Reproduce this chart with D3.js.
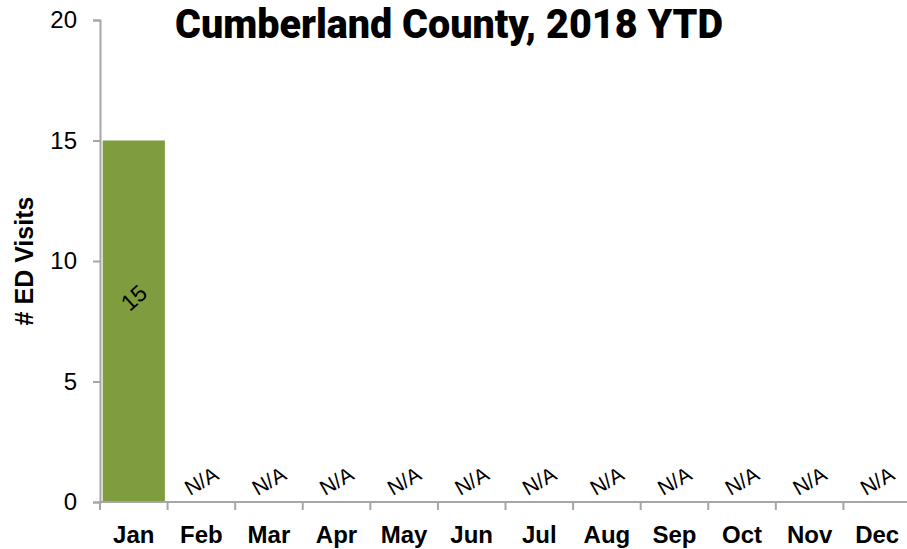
<!DOCTYPE html>
<meta charset="utf-8">
<style>
body { margin: 0; background: #fff; }
text { font-family: "Liberation Sans", Arial, sans-serif; }
.axis path, .axis line { stroke: #a6a6a6; stroke-width: 2; }
</style>
<svg width="907" height="549"></svg>
<script src="https://d3js.org/d3.v7.min.js"></script>
<script>

var months = ["Jan", "Feb", "Mar", "Apr", "May", "Jun", "Jul", "Aug", "Sep", "Oct", "Nov", "Dec"];
var visits = [15, null, null, null, null, null, null, null, null, null, null, null];
var yTicks = [0, 5, 10, 15, 20];
var title = "Cumberland County, 2018 YTD";

var svg = d3.select("svg"),
	margin = {top: 20, right: -4, bottom: 47, left: 100},
	width = +svg.attr("width") - margin.left - margin.right,
	height = +svg.attr("height") - margin.top - margin.bottom;

var x = d3.scaleBand()
	.domain(months)
	.range([0, width])
	.paddingInner(0.08)
	.paddingOuter(0.04);

var y = d3.scaleLinear()
	.domain([0, 20])
	.range([height, 0]);

var g = svg.append("g")
	.attr("transform", "translate(" + margin.left + "," + margin.top + ")");

// bars
g.selectAll(".bar")
  .data(months.map(function(m, i) { return {month: m, value: visits[i]}; }))
  .enter().filter(function(d) { return d.value != null; })
  .append("rect")
	.attr("class", "bar")
	.attr("x", function(d) { return x(d.month); })
	.attr("width", x.bandwidth())
	.attr("y", function(d) { return y(d.value); })
	.attr("height", function(d) { return y(0) - y(d.value); })
	.style("fill", "#7f9c3e");

// y axis
var yAxis = g.append("g")
	.attr("class", "axis")
	.call(d3.axisLeft(y).tickValues(yTicks).tickSize(7).tickSizeOuter(7).tickPadding(16));
yAxis.selectAll("text").style("font-size", "24px").style("fill", "#000")
	.style("font-family", "'Liberation Sans', Arial, sans-serif");

// x axis with ticks between bands
var xAxis = g.append("g")
	.attr("class", "axis")
	.attr("transform", "translate(0," + height + ")");
xAxis.append("line")
	.attr("x1", 0).attr("x2", width)
	.attr("y1", 0).attr("y2", 0);
xAxis.selectAll(".sep")
  .data(d3.range(months.length + 1))
  .enter().append("line")
	.attr("class", "sep")
	.attr("x1", function(i) { return i * x.step(); })
	.attr("x2", function(i) { return i * x.step(); })
	.attr("y1", 0).attr("y2", 8);
xAxis.selectAll(".lbl")
  .data(months)
  .enter().append("text")
	.attr("class", "lbl")
	.attr("x", function(d) { return x(d) + x.bandwidth() / 2; })
	.attr("y", 41)
	.attr("text-anchor", "middle")
	.style("font-size", "24px")
	.style("font-weight", "bold")
	.text(function(d) { return d; });

// value labels
months.forEach(function(m, i) {
	var v = visits[i];
	var cx = x(m) + x.bandwidth() / 2;
	if (v != null) {
		var cy = y(v) + (y(0) - y(v)) * 0.435;
		g.append("text")
			.attr("transform", "translate(" + cx + "," + cy + ") rotate(-42)")
			.attr("text-anchor", "middle")
			.attr("dy", "0.35em")
			.style("font-size", "23px")
			.text(v);
	} else {
		g.append("text")
			.attr("transform", "translate(" + cx + "," + (y(0) - 21) + ") rotate(-30)")
			.attr("text-anchor", "middle")
			.attr("dy", "0.35em")
			.style("font-size", "21px")
			.text("N/A");
	}
});

// y axis title
svg.append("text")
	.attr("transform", "translate(24," + 261 + ") rotate(-90)")
	.attr("text-anchor", "middle")
	.attr("dy", "0.35em")
	.style("font-size", "25px")
	.style("font-weight", "bold")
	.text("# ED Visits");

// chart title
svg.append("text")
	.attr("x", 449)
	.attr("y", 38)
	.attr("text-anchor", "middle")
	.attr("textLength", 548)
	.attr("lengthAdjust", "spacingAndGlyphs")
	.style("font-family", "Roboto, 'Liberation Sans', sans-serif")
	.style("font-size", "41px")
	.style("font-weight", "900")
	.text(title);

</script>
